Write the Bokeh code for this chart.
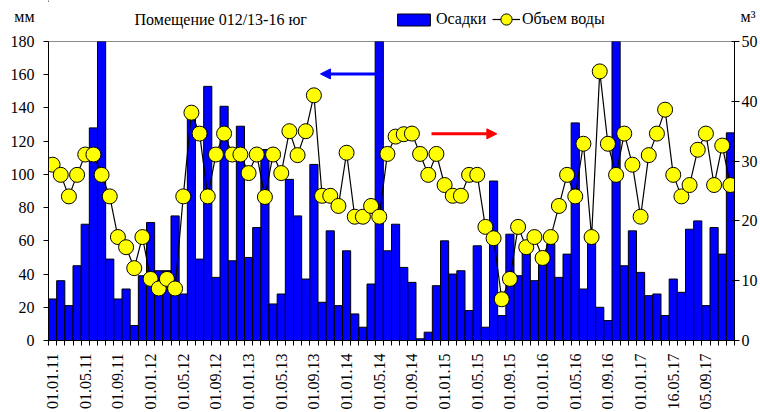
import math
from bokeh.plotting import figure
from bokeh.layouts import column
from bokeh.models import (Range1d, LinearAxis, FixedTicker, ColumnDataSource, Legend,
                          LegendItem, Arrow, NormalHead)
from bokeh.core.properties import value
from bokeh.embed import file_html
from bokeh.resources import INLINE

# ---------------- data ----------------
tick_labels = ["01.01.11", "01.05.11", "01.09.11", "01.01.12", "01.05.12", "01.09.12",
               "01.01.13", "01.05.13", "01.09.13", "01.01.14", "01.05.14", "01.09.14",
               "01.01.15", "01.05.15", "01.09.15", "01.01.16", "01.05.16", "01.09.16",
               "01.01.17", "16.05.17", "05.09.17"]

precip = [25, 36, 21, 45, 70, 128, 195, 49, 25, 31, 9, 39,
          71, 42, 42, 75, 28, 137, 49, 153, 38, 141, 48, 129,
          50, 68, 115, 22, 28, 97, 75, 37, 106, 23, 66, 21,
          54, 16, 8, 34, 195, 54, 70, 44, 35, 1, 5, 33,
          60, 40, 42, 18, 57, 8, 96, 15, 64, 39, 56, 36,
          46, 58, 38, 52, 131, 31, 62, 20, 12, 195, 45, 66,
          41, 27, 28, 15, 37, 29, 67, 72, 21, 68, 52, 125]

volume = [29.4, 27.7, 24.1, 27.7, 31.1, 31.1, 27.7, 24.1, 17.3, 15.6, 12.1, 17.3,
          10.3, 8.7, 10.3, 8.7, 24.1, 38.1, 34.6, 24.1, 31.1, 34.6, 31.1, 31.1,
          28.0, 31.1, 24.0, 31.1, 28.0, 35.0, 31.0, 35.0, 41.0, 24.2, 24.2, 22.5,
          31.4, 20.7, 20.7, 22.5, 20.7, 31.2, 34.1, 34.5, 34.6, 31.2, 27.7, 31.2,
          26.0, 24.2, 24.2, 27.7, 27.7, 19.0, 17.1, 6.9, 10.3, 19.0, 15.6, 17.3,
          13.8, 17.3, 22.5, 27.7, 24.1, 32.9, 17.3, 45.0, 32.9, 27.7, 34.6, 29.4,
          20.7, 31.0, 34.6, 38.6, 27.7, 24.1, 26.0, 31.9, 34.6, 26.0, 32.6, 26.0]

months = list(range(len(precip)))
tick_idx = [i * 4 for i in range(len(tick_labels))]

left_ticks = list(range(0, 181, 20))
right_ticks = list(range(0, 51, 10))

left_unit = "мм"
right_unit = "м³"
title_text = "Помещение 012/13-16 юг"
legend_labels = ["Осадки", "Объем воды"]

# arrow annotations (data units)
blue_arrow = dict(x_start=40.5, x_end=32.8, y=160.5)
red_arrow = dict(x_start=46.4, x_end=54.4, y=124.4)

FONT = "Liberation Serif"
FS = "16px"
BLUE = "#0000FF"
YELLOW = "#FFFF00"

HEAD_H = 32
FRAME_L, FRAME_R = 48, 734   # page pixels of the plot frame (header x range = page px)

# ---------------- header strip ----------------
hdr = figure(width=760, height=HEAD_H, output_backend="svg", toolbar_location=None,
             x_range=Range1d(FRAME_L, FRAME_R), y_range=Range1d(HEAD_H, 0),
             x_axis_type=None, y_axis_type=None,
             min_border_left=48, min_border_right=26, min_border_top=0, min_border_bottom=0,
             background_fill_color="white", border_fill_color="white")
hdr.xgrid.visible = False
hdr.ygrid.visible = False
hdr.outline_line_color = None
hdr.text(x=[134], y=[19], text=[title_text], text_font=value(FONT),
         text_font_size=FS, text_color="black", text_baseline="middle", text_align="left")

for side, lab, stand in [("left", left_unit, 14), ("right", right_unit, 6)]:
    ax = LinearAxis(ticker=FixedTicker(ticks=[]), axis_label=lab,
                    axis_label_orientation="horizontal", axis_label_standoff=stand,
                    axis_label_text_font=FONT, axis_label_text_font_size=FS,
                    axis_label_text_font_style="normal", axis_label_text_color="black",
                    axis_line_color=None, major_tick_line_color=None,
                    minor_tick_line_color=None, major_label_text_font_size="0px",
                    major_tick_out=0, major_tick_in=0, major_label_standoff=0)
    hdr.add_layout(ax, side)

# legend proxies (same styling as the main renderers), kept outside the visible range
proxy_bar = hdr.vbar(x=[-1000], top=[1], width=1.0, fill_color=BLUE, line_color="black", line_width=1)
proxy_line = hdr.line(x=[-1001, -1000], y=[1, 1], line_color="black", line_width=1.2)
proxy_pts = hdr.scatter(x=[-1000], y=[1], marker="circle", size=15, fill_color=YELLOW,
                        line_color="black", line_width=1)

common = dict(orientation="horizontal", padding=0, margin=0, border_line_color=None,
              background_fill_alpha=0, label_text_font=FONT, label_text_font_size=FS,
              label_text_color="black", label_standoff=2, spacing=0)
leg1 = Legend(items=[LegendItem(label=legend_labels[0], renderers=[proxy_bar])],
              location=(345, HEAD_H - 28.2), glyph_width=41, glyph_height=15, **common)
leg2 = Legend(items=[LegendItem(label=legend_labels[1], renderers=[proxy_line, proxy_pts])],
              location=(444, HEAD_H - 34), glyph_width=28, glyph_height=30, **common)
hdr.add_layout(leg1)
hdr.add_layout(leg2)

# ---------------- main chart ----------------
p = figure(width=760, height=412 - HEAD_H, output_backend="svg", toolbar_location=None,
           x_range=Range1d(-0.5, len(precip) - 0.5), y_range=Range1d(0, 180),
           min_border_left=48, min_border_right=26, min_border_top=41 - HEAD_H,
           min_border_bottom=69,
           background_fill_color="white", border_fill_color="white")
p.extra_y_ranges = {"vol": Range1d(0, 50)}
p.xgrid.visible = False
p.ygrid.visible = False
p.outline_line_color = "#8c8c8c"
p.outline_line_width = 1

src = ColumnDataSource(dict(x=months, precip=precip, vol=volume))
bars = p.vbar(x="x", top="precip", width=1.0, source=src,
              fill_color=BLUE, line_color="black", line_width=1)
ln = p.line(x="x", y="vol", source=src, y_range_name="vol",
            line_color="black", line_width=1.2)
pts = p.scatter(x="x", y="vol", source=src, y_range_name="vol", marker="circle",
                size=15, fill_color=YELLOW, line_color="black", line_width=1)

xa = p.xaxis[0]
xa.ticker = FixedTicker(ticks=tick_idx, minor_ticks=[i - 0.5 for i in range(len(precip) + 1)])
xa.major_label_overrides = {i: lab for i, lab in zip(tick_idx, tick_labels)}
xa.major_label_orientation = math.pi / 2
xa.major_tick_out = 0
xa.major_tick_in = 0
xa.minor_tick_out = 5
xa.minor_tick_in = 0
xa.major_label_standoff = 8

ya = p.yaxis[0]
ya.ticker = FixedTicker(ticks=left_ticks)
ya.major_tick_out = 5
ya.major_tick_in = 0
ya.minor_tick_out = 0
ya.major_label_standoff = 9

ra = LinearAxis(y_range_name="vol", ticker=FixedTicker(ticks=right_ticks))
ra.major_tick_out = 5
ra.major_tick_in = 3
ra.major_label_standoff = 2
p.add_layout(ra, "right")

for ax in [xa, ya, ra]:
    ax.axis_line_color = "black"
    ax.major_tick_line_color = "black"
    ax.minor_tick_line_color = "black"
    ax.major_label_text_font = FONT
    ax.major_label_text_font_size = FS
    ax.major_label_text_color = "black"

p.add_layout(Arrow(x_start=blue_arrow["x_start"], y_start=blue_arrow["y"],
                   x_end=blue_arrow["x_end"], y_end=blue_arrow["y"],
                   line_color=BLUE, line_width=3,
                   end=NormalHead(size=10, fill_color=BLUE, line_color=BLUE)))
p.add_layout(Arrow(x_start=red_arrow["x_start"], y_start=red_arrow["y"],
                   x_end=red_arrow["x_end"], y_end=red_arrow["y"],
                   line_color="#FF0000", line_width=3,
                   end=NormalHead(size=10, fill_color="#FF0000", line_color="#FF0000")))

layout = column(hdr, p, spacing=0)
open("out.html", "w").write(file_html(layout, INLINE))
